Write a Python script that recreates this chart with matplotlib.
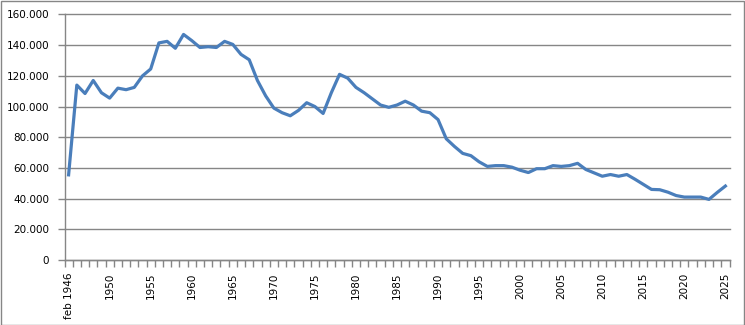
import matplotlib
matplotlib.use("Agg")
import matplotlib.pyplot as plt
from matplotlib.ticker import FuncFormatter, FixedLocator
from matplotlib.patches import Rectangle

# categories: first is "feb 1946", then every year 1946..2025
years = ["feb 1946"] + [str(y) for y in range(1946, 2026)]

values = [
    55500, 114000, 108500, 117000, 109000, 105500, 112000, 111000, 112500, 120000,
    124500, 141500, 142500, 138000, 147000, 143000, 138500, 139000, 138500, 142500,
    140500, 134000, 130500, 117000, 107000, 99000, 96000, 94000, 97500, 102500,
    100000, 95500, 109000, 121000, 118500, 112500, 109000, 105000, 101000, 99500,
    101000, 103500, 101000, 97000, 96000, 91500, 79000, 74000, 69500, 68000,
    64000, 61000, 61500, 61500, 60500, 58500, 57000, 59500, 59500, 61500,
    61000, 61500, 63000, 59000, 56800, 54600, 55700, 54600, 55700, 52600,
    49300, 46000, 45800, 44200, 42000, 41000, 41000, 41000, 39500, 44000,
    48200,
]

label_every = 5
grid_col = "#868686"

fig = plt.figure(figsize=(7.45, 3.25), dpi=100)
ax = fig.add_axes([64.5 / 745, 1 - 260 / 325, (729.5 - 64.5) / 745, (260 - 14.5) / 325])

x = list(range(len(values)))
ax.plot(x, values, color="#4A7EBB", linewidth=2.3, solid_joinstyle="round", zorder=3)

ax.set_xlim(-0.5, len(values) - 0.5)
ax.set_ylim(0, 160000)
ax.set_yticks(range(0, 160001, 20000))
ax.yaxis.set_major_formatter(FuncFormatter(lambda v, p: f"{int(v):,}".replace(",", ".")))
ax.grid(axis="y", color=grid_col, linewidth=1.0)
ax.set_axisbelow(True)
for gl in ax.get_ygridlines():
    gl.set_clip_on(False)

# labels at category centres, tick marks between categories
ax.xaxis.set_major_locator(FixedLocator(x[::label_every]))
ax.set_xticklabels(years[::label_every], rotation=90)
ax.xaxis.set_minor_locator(FixedLocator([i - 0.5 for i in range(len(values) + 1)]))
ax.tick_params(axis="x", which="major", length=0, pad=9, labelsize=7.5)
ax.tick_params(axis="x", which="minor", length=5, color=grid_col, width=1)
ax.tick_params(axis="y", length=5, color=grid_col, width=1, pad=6, labelsize=7.5)

for s in ["top", "right"]:
    ax.spines[s].set_visible(False)
for s in ["left", "bottom"]:
    ax.spines[s].set_color(grid_col)
    ax.spines[s].set_linewidth(1.0)

# chart area border
fig.patches.append(Rectangle((0.5 / 745, 0.5 / 325), 743.5 / 745, 323.5 / 325,
                             transform=fig.transFigure, fill=False,
                             edgecolor=grid_col, linewidth=1.0))

fig.savefig("out.png", dpi=100)
